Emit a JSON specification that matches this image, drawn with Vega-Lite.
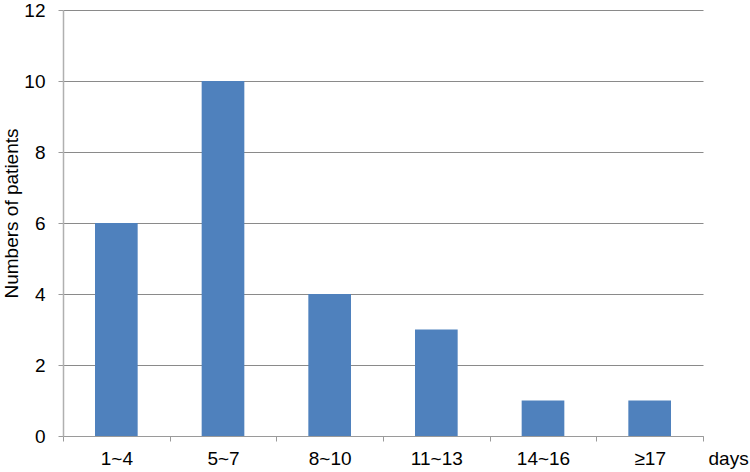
{
  "$schema": "https://vega.github.io/schema/vega-lite/v6.json",
  "autosize": "none",
  "width": 640,
  "height": 426,
  "padding": {"left": 63, "top": 10, "right": 47, "bottom": 36},
  "background": "white",
  "data": {
    "values": [
      {"days": "1~4", "patients": 6},
      {"days": "5~7", "patients": 10},
      {"days": "8~10", "patients": 4},
      {"days": "11~13", "patients": 3},
      {"days": "14~16", "patients": 1},
      {"days": "≥17", "patients": 1}
    ]
  },
  "config": {
    "view": {"stroke": null},
    "font": "Liberation Sans"
  },
  "mark": {"type": "bar", "color": "#4F81BD", "width": {"band": 0.4}},
  "encoding": {
    "x": {
      "field": "days",
      "type": "nominal",
      "sort": null,
      "scale": {"paddingInner": 0, "paddingOuter": 0},
      "axis": {
        "title": "days",
        "titleFont": "Liberation Sans",
        "titleFontSize": 19,
        "titleFontWeight": "normal",
        "titleColor": "#000",
        "titleAngle": 0,
        "titleAlign": "left",
        "titleBaseline": "top",
        "titleX": 645,
        "titleY": 13,
        "labelAngle": 0,
        "labelFontSize": 19,
        "labelColor": "#000",
        "labelPadding": 8,
        "labelBaseline": "top",
        "tickBand": "extent",
        "tickSize": 5,
        "tickColor": "#9a9a9a",
        "domainColor": "#9a9a9a",
        "domainWidth": 1.2
      }
    },
    "y": {
      "field": "patients",
      "type": "quantitative",
      "scale": {"domain": [0, 12], "nice": false},
      "axis": {
        "title": "Numbers of patients",
        "titleFont": "Liberation Sans",
        "titleFontSize": 19,
        "titleFontWeight": "normal",
        "titleColor": "#000",
        "titleAngle": -90,
        "titleY": 203,
        "titleX": -61,
        "titleAlign": "center",
        "titleBaseline": "top",
        "values": [0, 2, 4, 6, 8, 10, 12],
        "labelFontSize": 19,
        "labelColor": "#000",
        "labelPadding": 13,
        "tickSize": 5,
        "tickColor": "#9a9a9a",
        "domainColor": "#b0b0b0",
        "domainWidth": 1.5,
        "gridColor": "#8a8a8a",
        "gridWidth": 1
      }
    }
  }
}
